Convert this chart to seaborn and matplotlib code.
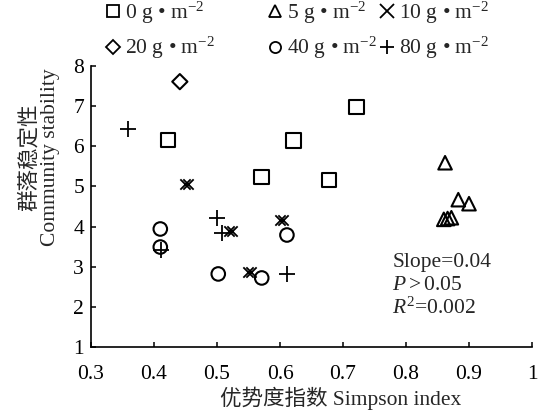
import matplotlib
matplotlib.use("Agg")
import matplotlib.pyplot as plt
from matplotlib.lines import Line2D
from matplotlib.ticker import FuncFormatter
import pandas as pd
import seaborn as sns

# data
groups = ["0 g", "5 g", "10 g", "20 g", "40 g", "80 g"]
markers = {"0 g": "s", "5 g": "^", "10 g": "x", "20 g": "D", "40 g": "o", "80 g": "+"}
sizes = {"0 g": 110, "5 g": 95, "10 g": 55, "20 g": 60, "40 g": 95, "80 g": 120}

simpson_0 = [0.422, 0.621, 0.571, 0.678, 0.721]
stab_0 = [6.16, 6.14, 5.24, 5.16, 6.98]
simpson_5 = [0.862, 0.883, 0.900, 0.860, 0.866, 0.872]
stab_5 = [5.59, 4.67, 4.57, 4.18, 4.20, 4.22]
simpson_10 = [0.4495, 0.4545, 0.5195, 0.5245, 0.5995, 0.6045, 0.5485, 0.5535]
stab_10 = [5.06, 5.06, 3.89, 3.89, 4.17, 4.17, 2.87, 2.87]
simpson_20 = [0.441]
stab_20 = [7.61]
simpson_40 = [0.410, 0.410, 0.502, 0.571, 0.611]
stab_40 = [3.94, 3.49, 2.82, 2.72, 3.79]
simpson_80 = [0.359, 0.500, 0.508, 0.411, 0.611]
stab_80 = [6.44, 4.22, 3.84, 3.42, 2.82]

xs = [simpson_0, simpson_5, simpson_10, simpson_20, simpson_40, simpson_80]
ys = [stab_0, stab_5, stab_10, stab_20, stab_40, stab_80]
rows = []
for g, xv, yv in zip(groups, xs, ys):
    for a, b in zip(xv, yv):
        rows.append({"group": g, "simpson": a, "stability": b})
df = pd.DataFrame(rows)

FS = 15.5

sns.set_style("ticks")
plt.rcParams["font.family"] = ["Liberation Serif", "Noto Sans CJK SC"]
plt.rcParams["mathtext.fontset"] = "custom"
plt.rcParams["mathtext.rm"] = "Liberation Serif"
plt.rcParams["mathtext.it"] = "Liberation Serif:italic"
plt.rcParams["font.size"] = FS

fig = plt.figure(figsize=(5.55, 4.13), dpi=100)
ax = fig.add_axes([91 / 555, 1 - 347 / 413, 441 / 555, 281 / 413])

for g in groups:
    sub = df[df["group"] == g]
    m = markers[g]
    if m in ("x", "+"):
        sns.scatterplot(data=sub, x="simpson", y="stability", marker=m, s=sizes[g],
                        color="black", linewidth=1.3, ax=ax, legend=False)
    else:
        sns.scatterplot(data=sub, x="simpson", y="stability", marker=m, s=sizes[g],
                        facecolor="none", edgecolor="black", linewidth=1.5,
                        ax=ax, legend=False)

ax.set_xlim(0.3, 1.0)
ax.set_ylim(1, 8)
ax.set_xticks([0.3, 0.4, 0.5, 0.6, 0.7, 0.8, 0.9, 1.0])
ax.set_yticks(range(1, 9))
ax.xaxis.set_major_formatter(FuncFormatter(lambda v, p: f"{v:g}"))
sns.despine(ax=ax)
for s in ("left", "bottom"):
    ax.spines[s].set_linewidth(1.2)
    ax.spines[s].set_color("black")
ax.tick_params(direction="in", length=3.5, width=1.1, colors="black", labelsize=FS)
ax.tick_params(axis="x", pad=13)
ax.tick_params(axis="y", pad=5)

ax.set_xlabel("优势度指数 Simpson index", fontsize=FS)
ax.xaxis.set_label_coords((341 - 91) / 441, (347 - 398) / 281)
ax.xaxis.label.set_va("center")
ax.set_ylabel("群落稳定性\nCommunity stability", fontsize=FS, linespacing=1.05)
ax.yaxis.set_label_coords((40 - 91) / 441, (347 - 157) / 281)
ax.yaxis.label.set_va("center")

ax.text(0.683, 0.302, "Slope=0.04", transform=ax.transAxes, va="center", fontsize=FS)
ax.text(0.683, 0.220, "$P>0.05$", transform=ax.transAxes, va="center", fontsize=FS)
ax.text(0.683, 0.138, "$R^2$=0.002", transform=ax.transAxes, va="center", fontsize=FS)

# legend, three columns of two entries each
columns = [("0 g", "20 g", 105), ("5 g", "40 g", 267), ("10 g", "80 g", 379)]
for a, b, left in columns:
    handles = []
    for g in (a, b):
        m = markers[g]
        if m in ("x", "+"):
            h = Line2D([], [], marker=m, linestyle="none", color="black",
                       markersize=10, markeredgewidth=1.3)
        else:
            h = Line2D([], [], marker=m, linestyle="none", color="black",
                       markerfacecolor="none", markersize=8 if m != "D" else 7,
                       markeredgewidth=1.3)
        h.set_label(g + " • m$^{-2}$")
        handles.append(h)
    fig.legend(handles=handles, loc="upper left",
               bbox_to_anchor=(left / 555, 1 - 0 / 413), bbox_transform=fig.transFigure,
               frameon=False, borderpad=0, borderaxespad=0, handlelength=0.75,
               handletextpad=0.2, labelspacing=0.42, fontsize=FS)

fig.savefig("out.png", dpi=100)
